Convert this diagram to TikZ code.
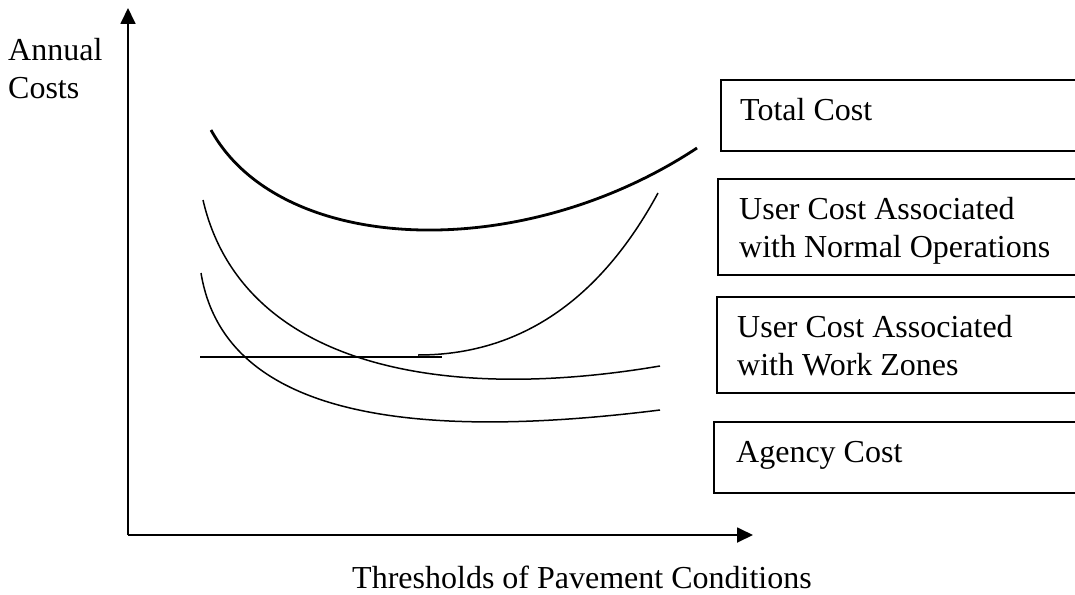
\documentclass[tikz,border=0pt]{standalone}
\usepackage{fontspec}
\setmainfont{Liberation Serif}
\usetikzlibrary{arrows.meta}
\tikzset{
  costtext/.style={anchor=base west, inner sep=0pt, align=left, font=\fontsize{32}{38}\selectfont},
  boxline/.style={line width=1.6pt},
  axis/.style={line width=1.8pt, -{Triangle[length=16pt,width=15pt]}},
  curve/.style={line width=1.5pt},
}
\begin{document}
\begin{tikzpicture}[x=1pt,y=-1pt]
\useasboundingbox (0,0) rectangle (1075,594);
\coordinate (O) at (128,535);
\coordinate (Ytop) at (128,8);
\coordinate (Xend) at (753,535);
\draw[axis] (O) -- (Ytop);
\draw[axis] (O) -- (Xend);
\node[anchor=north west, align=left, inner sep=0pt, font=\fontsize{32}{38}\selectfont] (ylabel) at (8,38) {Annual\\Costs};
\node[anchor=base, inner sep=0pt, font=\fontsize{32}{38}\selectfont] (xlabel) at (582,588) {Thresholds of Pavement Conditions};

\draw[boxline] (1075,80) -| (721,151) -- (1075,151);
\draw[boxline] (1075,179) -| (718,275) -- (1075,275);
\draw[boxline] (1075,297) -| (717,393) -- (1075,393);
\draw[boxline] (1075,422) -| (714,493) -- (1075,493);
\node[costtext] (total) at (740,120) {Total Cost};
\node[costtext] (normal) at (739,257) {User Cost Associated\\with Normal Operations};
\node[costtext] (work) at (737,375) {User Cost Associated\\with Work Zones};
\node[costtext] (agency) at (736,462) {Agency Cost};

\draw[line width=2.8pt] (211,130) .. controls (280,255) and (520,265) .. (697,148);
\draw[curve] (203,200) .. controls (240,360) and (430,405) .. (660,366);
\draw[curve] (201,273) .. controls (225,420) and (420,440) .. (660,410);
\draw[curve] (200,357) -- (442,357);
\draw[curve] (418,355) .. controls (520,355) and (600,300) .. (658,193);
\end{tikzpicture}
\end{document}
